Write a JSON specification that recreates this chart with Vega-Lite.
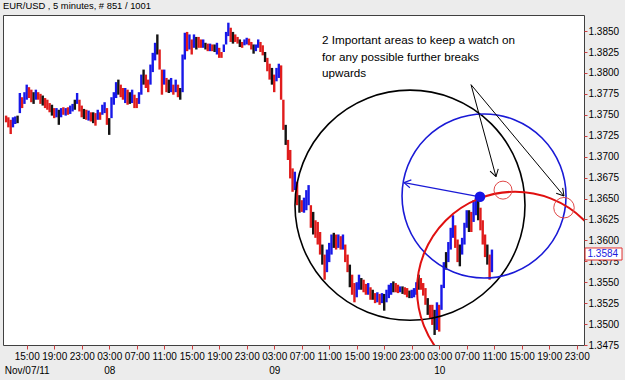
{
"$schema": "https://vega.github.io/schema/vega-lite/v6.json",
"width": 581, "height": 330,
"autosize": {"type": "none"},
"padding": {"left": 3, "top": 15, "right": 41, "bottom": 35},
"background": "#ececec",
"config": {"view": {"fill": "white", "stroke": "#404040", "strokeWidth": 1}, "font": "Liberation Sans"},
"title": {"text": "EUR/USD , 5 minutes, # 851 / 1001", "anchor": "start", "frame": "group", "offset": 4, "fontSize": 9.4, "fontWeight": "normal", "font": "Liberation Sans", "color": "#000000"},
"datasets": {
"bars": [
{"hour":12.00,"high":1.3749,"low":1.3741,"dir":"down"},
{"hour":12.33,"high":1.3747,"low":1.3735,"dir":"down"},
{"hour":12.67,"high":1.3744,"low":1.3727,"dir":"down"},
{"hour":13.00,"high":1.3747,"low":1.3735,"dir":"up"},
{"hour":13.33,"high":1.3748,"low":1.3739,"dir":"up"},
{"hour":13.67,"high":1.3749,"low":1.3740,"dir":"flat"},
{"hour":14.00,"high":1.3776,"low":1.3752,"dir":"up"},
{"hour":14.33,"high":1.3771,"low":1.3758,"dir":"down"},
{"hour":14.67,"high":1.3777,"low":1.3763,"dir":"up"},
{"hour":15.00,"high":1.3786,"low":1.3768,"dir":"up"},
{"hour":15.33,"high":1.3783,"low":1.3770,"dir":"down"},
{"hour":15.67,"high":1.3780,"low":1.3765,"dir":"down"},
{"hour":16.00,"high":1.3777,"low":1.3763,"dir":"flat"},
{"hour":16.33,"high":1.3780,"low":1.3768,"dir":"up"},
{"hour":16.67,"high":1.3777,"low":1.3768,"dir":"down"},
{"hour":17.00,"high":1.3775,"low":1.3763,"dir":"down"},
{"hour":17.33,"high":1.3773,"low":1.3761,"dir":"flat"},
{"hour":17.67,"high":1.3770,"low":1.3758,"dir":"down"},
{"hour":18.00,"high":1.3768,"low":1.3756,"dir":"down"},
{"hour":18.33,"high":1.3764,"low":1.3753,"dir":"down"},
{"hour":18.67,"high":1.3762,"low":1.3749,"dir":"flat"},
{"hour":19.00,"high":1.3758,"low":1.3746,"dir":"down"},
{"hour":19.33,"high":1.3758,"low":1.3747,"dir":"up"},
{"hour":19.67,"high":1.3756,"low":1.3738,"dir":"flat"},
{"hour":20.00,"high":1.3758,"low":1.3747,"dir":"up"},
{"hour":20.33,"high":1.3759,"low":1.3750,"dir":"down"},
{"hour":20.67,"high":1.3758,"low":1.3749,"dir":"up"},
{"hour":21.00,"high":1.3759,"low":1.3750,"dir":"down"},
{"hour":21.33,"high":1.3761,"low":1.3751,"dir":"up"},
{"hour":21.67,"high":1.3763,"low":1.3754,"dir":"up"},
{"hour":22.00,"high":1.3768,"low":1.3756,"dir":"flat"},
{"hour":22.33,"high":1.3776,"low":1.3763,"dir":"up"},
{"hour":22.67,"high":1.3768,"low":1.3754,"dir":"down"},
{"hour":23.00,"high":1.3761,"low":1.3747,"dir":"down"},
{"hour":23.33,"high":1.3757,"low":1.3745,"dir":"flat"},
{"hour":23.67,"high":1.3756,"low":1.3744,"dir":"down"},
{"hour":24.00,"high":1.3755,"low":1.3743,"dir":"up"},
{"hour":24.33,"high":1.3753,"low":1.3742,"dir":"down"},
{"hour":24.67,"high":1.3753,"low":1.3740,"dir":"flat"},
{"hour":25.00,"high":1.3752,"low":1.3737,"dir":"down"},
{"hour":25.33,"high":1.3756,"low":1.3744,"dir":"up"},
{"hour":25.67,"high":1.3753,"low":1.3744,"dir":"down"},
{"hour":26.00,"high":1.3762,"low":1.3750,"dir":"up"},
{"hour":26.33,"high":1.3765,"low":1.3752,"dir":"up"},
{"hour":26.67,"high":1.3758,"low":1.3738,"dir":"down"},
{"hour":27.00,"high":1.3746,"low":1.3726,"dir":"flat"},
{"hour":27.33,"high":1.3771,"low":1.3746,"dir":"up"},
{"hour":27.67,"high":1.3777,"low":1.3762,"dir":"up"},
{"hour":28.00,"high":1.3789,"low":1.3770,"dir":"up"},
{"hour":28.33,"high":1.3792,"low":1.3774,"dir":"flat"},
{"hour":28.67,"high":1.3786,"low":1.3771,"dir":"down"},
{"hour":29.00,"high":1.3782,"low":1.3768,"dir":"down"},
{"hour":29.33,"high":1.3782,"low":1.3764,"dir":"up"},
{"hour":29.67,"high":1.3780,"low":1.3762,"dir":"down"},
{"hour":30.00,"high":1.3777,"low":1.3763,"dir":"flat"},
{"hour":30.33,"high":1.3780,"low":1.3764,"dir":"up"},
{"hour":30.67,"high":1.3774,"low":1.3758,"dir":"down"},
{"hour":31.00,"high":1.3770,"low":1.3758,"dir":"down"},
{"hour":31.33,"high":1.3777,"low":1.3763,"dir":"up"},
{"hour":31.67,"high":1.3798,"low":1.3774,"dir":"up"},
{"hour":32.00,"high":1.3804,"low":1.3786,"dir":"flat"},
{"hour":32.33,"high":1.3798,"low":1.3782,"dir":"down"},
{"hour":32.67,"high":1.3792,"low":1.3777,"dir":"down"},
{"hour":33.00,"high":1.3810,"low":1.3786,"dir":"up"},
{"hour":33.33,"high":1.3824,"low":1.3801,"dir":"up"},
{"hour":33.67,"high":1.3836,"low":1.3815,"dir":"up"},
{"hour":34.00,"high":1.3846,"low":1.3822,"dir":"flat"},
{"hour":34.33,"high":1.3828,"low":1.3804,"dir":"down"},
{"hour":34.67,"high":1.3804,"low":1.3774,"dir":"down"},
{"hour":35.00,"high":1.3804,"low":1.3786,"dir":"up"},
{"hour":35.33,"high":1.3794,"low":1.3777,"dir":"down"},
{"hour":35.67,"high":1.3792,"low":1.3776,"dir":"flat"},
{"hour":36.00,"high":1.3794,"low":1.3777,"dir":"up"},
{"hour":36.33,"high":1.3786,"low":1.3774,"dir":"down"},
{"hour":36.67,"high":1.3792,"low":1.3777,"dir":"up"},
{"hour":37.00,"high":1.3786,"low":1.3771,"dir":"down"},
{"hour":37.33,"high":1.3782,"low":1.3768,"dir":"flat"},
{"hour":37.67,"high":1.3822,"low":1.3777,"dir":"up"},
{"hour":38.00,"high":1.3848,"low":1.3816,"dir":"up"},
{"hour":38.33,"high":1.3849,"low":1.3826,"dir":"down"},
{"hour":38.67,"high":1.3846,"low":1.3828,"dir":"up"},
{"hour":39.00,"high":1.3840,"low":1.3822,"dir":"down"},
{"hour":39.33,"high":1.3846,"low":1.3830,"dir":"up"},
{"hour":39.67,"high":1.3843,"low":1.3828,"dir":"flat"},
{"hour":40.00,"high":1.3843,"low":1.3830,"dir":"down"},
{"hour":40.33,"high":1.3840,"low":1.3830,"dir":"down"},
{"hour":40.67,"high":1.3840,"low":1.3830,"dir":"up"},
{"hour":41.00,"high":1.3836,"low":1.3828,"dir":"flat"},
{"hour":41.33,"high":1.3835,"low":1.3826,"dir":"down"},
{"hour":41.67,"high":1.3835,"low":1.3826,"dir":"up"},
{"hour":42.00,"high":1.3834,"low":1.3826,"dir":"down"},
{"hour":42.33,"high":1.3834,"low":1.3825,"dir":"flat"},
{"hour":42.67,"high":1.3836,"low":1.3822,"dir":"up"},
{"hour":43.00,"high":1.3830,"low":1.3818,"dir":"down"},
{"hour":43.33,"high":1.3825,"low":1.3818,"dir":"down"},
{"hour":43.67,"high":1.3834,"low":1.3825,"dir":"up"},
{"hour":44.00,"high":1.3849,"low":1.3834,"dir":"up"},
{"hour":44.33,"high":1.3860,"low":1.3844,"dir":"up"},
{"hour":44.67,"high":1.3854,"low":1.3837,"dir":"down"},
{"hour":45.00,"high":1.3849,"low":1.3835,"dir":"flat"},
{"hour":45.33,"high":1.3846,"low":1.3837,"dir":"down"},
{"hour":45.67,"high":1.3843,"low":1.3835,"dir":"down"},
{"hour":46.00,"high":1.3840,"low":1.3831,"dir":"flat"},
{"hour":46.33,"high":1.3837,"low":1.3830,"dir":"down"},
{"hour":46.67,"high":1.3840,"low":1.3833,"dir":"up"},
{"hour":47.00,"high":1.3842,"low":1.3834,"dir":"up"},
{"hour":47.33,"high":1.3841,"low":1.3833,"dir":"down"},
{"hour":47.67,"high":1.3837,"low":1.3828,"dir":"down"},
{"hour":48.00,"high":1.3834,"low":1.3823,"dir":"flat"},
{"hour":48.33,"high":1.3834,"low":1.3826,"dir":"up"},
{"hour":48.67,"high":1.3840,"low":1.3830,"dir":"up"},
{"hour":49.00,"high":1.3837,"low":1.3825,"dir":"down"},
{"hour":49.33,"high":1.3833,"low":1.3821,"dir":"down"},
{"hour":49.67,"high":1.3825,"low":1.3813,"dir":"flat"},
{"hour":50.00,"high":1.3818,"low":1.3802,"dir":"down"},
{"hour":50.33,"high":1.3811,"low":1.3792,"dir":"down"},
{"hour":50.67,"high":1.3806,"low":1.3786,"dir":"flat"},
{"hour":51.00,"high":1.3798,"low":1.3777,"dir":"down"},
{"hour":51.33,"high":1.3806,"low":1.3790,"dir":"up"},
{"hour":51.67,"high":1.3811,"low":1.3794,"dir":"up"},
{"hour":52.00,"high":1.3809,"low":1.3768,"dir":"down"},
{"hour":52.33,"high":1.3768,"low":1.3732,"dir":"down"},
{"hour":52.67,"high":1.3738,"low":1.3714,"dir":"flat"},
{"hour":53.00,"high":1.3720,"low":1.3696,"dir":"down"},
{"hour":53.33,"high":1.3708,"low":1.3674,"dir":"down"},
{"hour":53.67,"high":1.3686,"low":1.3658,"dir":"down"},
{"hour":54.00,"high":1.3682,"low":1.3660,"dir":"up"},
{"hour":54.33,"high":1.3670,"low":1.3642,"dir":"down"},
{"hour":54.67,"high":1.3654,"low":1.3633,"dir":"flat"},
{"hour":55.00,"high":1.3648,"low":1.3634,"dir":"down"},
{"hour":55.33,"high":1.3651,"low":1.3633,"dir":"up"},
{"hour":55.67,"high":1.3660,"low":1.3636,"dir":"up"},
{"hour":56.00,"high":1.3666,"low":1.3642,"dir":"up"},
{"hour":56.33,"high":1.3642,"low":1.3615,"dir":"down"},
{"hour":56.67,"high":1.3634,"low":1.3607,"dir":"flat"},
{"hour":57.00,"high":1.3624,"low":1.3603,"dir":"down"},
{"hour":57.33,"high":1.3622,"low":1.3595,"dir":"down"},
{"hour":57.67,"high":1.3610,"low":1.3583,"dir":"down"},
{"hour":58.00,"high":1.3595,"low":1.3571,"dir":"flat"},
{"hour":58.33,"high":1.3583,"low":1.3553,"dir":"down"},
{"hour":58.67,"high":1.3589,"low":1.3562,"dir":"up"},
{"hour":59.00,"high":1.3597,"low":1.3574,"dir":"up"},
{"hour":59.33,"high":1.3607,"low":1.3583,"dir":"up"},
{"hour":59.67,"high":1.3609,"low":1.3591,"dir":"flat"},
{"hour":60.00,"high":1.3607,"low":1.3589,"dir":"down"},
{"hour":60.33,"high":1.3607,"low":1.3591,"dir":"up"},
{"hour":60.67,"high":1.3605,"low":1.3589,"dir":"down"},
{"hour":61.00,"high":1.3607,"low":1.3589,"dir":"up"},
{"hour":61.33,"high":1.3595,"low":1.3574,"dir":"down"},
{"hour":61.67,"high":1.3583,"low":1.3562,"dir":"down"},
{"hour":62.00,"high":1.3571,"low":1.3544,"dir":"flat"},
{"hour":62.33,"high":1.3559,"low":1.3535,"dir":"down"},
{"hour":62.67,"high":1.3549,"low":1.3526,"dir":"down"},
{"hour":63.00,"high":1.3550,"low":1.3532,"dir":"up"},
{"hour":63.33,"high":1.3559,"low":1.3541,"dir":"up"},
{"hour":63.67,"high":1.3555,"low":1.3541,"dir":"flat"},
{"hour":64.00,"high":1.3553,"low":1.3538,"dir":"down"},
{"hour":64.33,"high":1.3548,"low":1.3535,"dir":"down"},
{"hour":64.67,"high":1.3549,"low":1.3535,"dir":"up"},
{"hour":65.00,"high":1.3544,"low":1.3529,"dir":"down"},
{"hour":65.33,"high":1.3541,"low":1.3529,"dir":"flat"},
{"hour":65.67,"high":1.3537,"low":1.3525,"dir":"down"},
{"hour":66.00,"high":1.3538,"low":1.3526,"dir":"up"},
{"hour":66.33,"high":1.3536,"low":1.3523,"dir":"down"},
{"hour":66.67,"high":1.3537,"low":1.3525,"dir":"up"},
{"hour":67.00,"high":1.3536,"low":1.3516,"dir":"flat"},
{"hour":67.33,"high":1.3541,"low":1.3526,"dir":"up"},
{"hour":67.67,"high":1.3547,"low":1.3531,"dir":"up"},
{"hour":68.00,"high":1.3549,"low":1.3535,"dir":"up"},
{"hour":68.33,"high":1.3551,"low":1.3538,"dir":"flat"},
{"hour":68.67,"high":1.3549,"low":1.3538,"dir":"down"},
{"hour":69.00,"high":1.3547,"low":1.3537,"dir":"down"},
{"hour":69.33,"high":1.3545,"low":1.3538,"dir":"up"},
{"hour":69.67,"high":1.3545,"low":1.3536,"dir":"flat"},
{"hour":70.00,"high":1.3544,"low":1.3535,"dir":"down"},
{"hour":70.33,"high":1.3543,"low":1.3532,"dir":"down"},
{"hour":70.67,"high":1.3540,"low":1.3531,"dir":"flat"},
{"hour":71.00,"high":1.3541,"low":1.3531,"dir":"up"},
{"hour":71.33,"high":1.3543,"low":1.3532,"dir":"up"},
{"hour":71.67,"high":1.3550,"low":1.3535,"dir":"up"},
{"hour":72.00,"high":1.3559,"low":1.3541,"dir":"flat"},
{"hour":72.33,"high":1.3555,"low":1.3541,"dir":"down"},
{"hour":72.67,"high":1.3549,"low":1.3534,"dir":"down"},
{"hour":73.00,"high":1.3543,"low":1.3523,"dir":"down"},
{"hour":73.33,"high":1.3531,"low":1.3511,"dir":"flat"},
{"hour":73.67,"high":1.3523,"low":1.3507,"dir":"down"},
{"hour":74.00,"high":1.3523,"low":1.3499,"dir":"down"},
{"hour":74.33,"high":1.3517,"low":1.3487,"dir":"flat"},
{"hour":74.67,"high":1.3526,"low":1.3493,"dir":"up"},
{"hour":75.00,"high":1.3523,"low":1.3491,"dir":"down"},
{"hour":75.33,"high":1.3547,"low":1.3517,"dir":"up"},
{"hour":75.67,"high":1.3574,"low":1.3543,"dir":"up"},
{"hour":76.00,"high":1.3586,"low":1.3565,"dir":"flat"},
{"hour":76.33,"high":1.3598,"low":1.3574,"dir":"up"},
{"hour":76.67,"high":1.3615,"low":1.3589,"dir":"up"},
{"hour":77.00,"high":1.3630,"low":1.3603,"dir":"up"},
{"hour":77.33,"high":1.3618,"low":1.3591,"dir":"down"},
{"hour":77.67,"high":1.3601,"low":1.3574,"dir":"down"},
{"hour":78.00,"high":1.3595,"low":1.3569,"dir":"flat"},
{"hour":78.33,"high":1.3603,"low":1.3583,"dir":"up"},
{"hour":78.67,"high":1.3621,"low":1.3595,"dir":"up"},
{"hour":79.00,"high":1.3636,"low":1.3615,"dir":"up"},
{"hour":79.33,"high":1.3636,"low":1.3610,"dir":"flat"},
{"hour":79.67,"high":1.3634,"low":1.3610,"dir":"down"},
{"hour":80.00,"high":1.3648,"low":1.3622,"dir":"up"},
{"hour":80.33,"high":1.3651,"low":1.3630,"dir":"up"},
{"hour":80.67,"high":1.3648,"low":1.3624,"dir":"flat"},
{"hour":81.00,"high":1.3639,"low":1.3612,"dir":"down"},
{"hour":81.33,"high":1.3624,"low":1.3595,"dir":"down"},
{"hour":81.67,"high":1.3607,"low":1.3580,"dir":"down"},
{"hour":82.00,"high":1.3595,"low":1.3571,"dir":"flat"},
{"hour":82.33,"high":1.3583,"low":1.3553,"dir":"down"},
{"hour":82.67,"high":1.3589,"low":1.3562,"dir":"up"}
],
"blackLines": [
{"hour":79.63,"price":1.3786,"hour2":83.26,"price2":1.3676},
{"hour":79.63,"price":1.3786,"hour2":93.15,"price2":1.3653}
],
"notes": [
{"hour":57.95,"price":1.38393,"label":"2 Important areas to keep a watch on"},
{"hour":57.95,"price":1.38196,"label":"for any possible further breaks"},
{"hour":57.95,"price":1.38005,"label":"upwards"}
]
},
"resolve": {"axis": {"x": "independent", "y": "independent"}},
"layer": [
{
"data": {"name": "bars"},
"mark": {"type": "rule", "strokeWidth": 2.4},
"encoding": {
"x": {"field": "hour", "type": "quantitative", "scale": {"domain": [11.55, 96.06], "nice": false, "zero": false},
"axis": {"orient": "bottom", "values": [15,19,23,27,31,35,39,43,47,51,55,59,63,67,71,75,79,83,87,91,95], "labelExpr": "(datum.value % 24 < 10 ? '0' : '') + (datum.value % 24) + ':00'", "domain": false, "grid": false, "ticks": true, "tickColor": "#d04040", "tickSize": 4, "labelPadding": 2, "labelFontSize": 10, "labelColor": "#000000", "title": null, "labelFlush": false, "labelOverlap": false, "zindex": 0}},
"y": {"field": "high", "type": "quantitative", "scale": {"domain": [1.3475, 1.38692], "nice": false, "zero": false},
"axis": {"orient": "right", "values": [1.3475,1.35,1.3525,1.355,1.3575,1.36,1.3625,1.365,1.3675,1.37,1.3725,1.375,1.3775,1.38,1.3825,1.385], "format": ".4f", "domain": false, "grid": false, "ticks": true, "tickColor": "#d04040", "tickSize": 3, "labelPadding": 1, "labelFontSize": 10, "labelColor": "#000000", "title": null, "labelFlush": false, "labelOverlap": false, "zindex": 0}},
"y2": {"field": "low"},
"color": {"field": "dir", "type": "nominal", "scale": {"domain": ["up","down","flat"], "range": ["#1818e8","#e01c1c","#141414"]}, "legend": null}
}
},
{
"data": {"values": [{"hour":70.75,"price":1.3642}]},
"mark": {"type": "point", "shape": "circle", "size": 52900, "filled": false, "stroke": "#000000", "strokeWidth": 1.6, "opacity": 1},
"encoding": {"x": {"field": "hour", "type": "quantitative", "axis": null}, "y": {"field": "price", "type": "quantitative", "axis": null}}
},
{
"data": {"values": [{"hour":81.52,"price":1.3653}]},
"mark": {"type": "point", "shape": "circle", "size": 26896, "filled": false, "stroke": "#1a1ad6", "strokeWidth": 1.6, "opacity": 1},
"encoding": {"x": {"field": "hour", "type": "quantitative", "axis": null}, "y": {"field": "price", "type": "quantitative", "axis": null}}
},
{
"data": {"values": [{"hour":86.03,"price":1.3541}]},
"mark": {"type": "point", "shape": "circle", "size": 38416, "filled": false, "stroke": "#e01010", "strokeWidth": 2, "opacity": 1, "clip": true},
"encoding": {"x": {"field": "hour", "type": "quantitative", "axis": null}, "y": {"field": "price", "type": "quantitative", "axis": null}}
},
{
"data": {"values": [{"hour":84.28,"price":1.3660}]},
"mark": {"type": "point", "shape": "circle", "size": 324, "filled": false, "stroke": "#e04848", "strokeWidth": 1, "opacity": 1},
"encoding": {"x": {"field": "hour", "type": "quantitative", "axis": null}, "y": {"field": "price", "type": "quantitative", "axis": null}}
},
{
"data": {"values": [{"hour":93.15,"price":1.3639}]},
"mark": {"type": "point", "shape": "circle", "size": 420, "filled": false, "stroke": "#e04848", "strokeWidth": 1, "opacity": 1},
"encoding": {"x": {"field": "hour", "type": "quantitative", "axis": null}, "y": {"field": "price", "type": "quantitative", "axis": null}}
},
{
"data": {"name": "blackLines"},
"mark": {"type": "rule", "stroke": "#000000", "strokeWidth": 1},
"encoding": {"x": {"field": "hour", "type": "quantitative", "axis": null}, "y": {"field": "price", "type": "quantitative", "axis": null}, "x2": {"field": "hour2"}, "y2": {"field": "price2"}}
},
{
"data": {"values": [{"hour":83.26,"price":1.3676}]},
"mark": {"type": "point", "shape": "M0,0L1,-0.6M0,0L1,0.6", "size": 200, "filled": false, "stroke": "#000000", "strokeWidth": 1, "opacity": 1, "angle": 254.8},
"encoding": {"x": {"field": "hour", "type": "quantitative", "axis": null}, "y": {"field": "price", "type": "quantitative", "axis": null}}
},
{
"data": {"values": [{"hour":93.15,"price":1.3653}]},
"mark": {"type": "point", "shape": "M0,0L1,-0.6M0,0L1,0.6", "size": 200, "filled": false, "stroke": "#000000", "strokeWidth": 1, "opacity": 1, "angle": 230},
"encoding": {"x": {"field": "hour", "type": "quantitative", "axis": null}, "y": {"field": "price", "type": "quantitative", "axis": null}}
},
{
"data": {"values": [{"hour":80.93,"price":1.3652,"hour2":69.88,"price2":1.3669}]},
"mark": {"type": "rule", "stroke": "#1a1ad6", "strokeWidth": 1.2},
"encoding": {"x": {"field": "hour", "type": "quantitative", "axis": null}, "y": {"field": "price", "type": "quantitative", "axis": null}, "x2": {"field": "hour2"}, "y2": {"field": "price2"}}
},
{
"data": {"values": [{"hour":69.88,"price":1.3669}]},
"mark": {"type": "point", "shape": "M0,0L1,-0.6M0,0L1,0.6", "size": 180, "filled": false, "stroke": "#1a1ad6", "strokeWidth": 1.2, "opacity": 1, "angle": 10.4},
"encoding": {"x": {"field": "hour", "type": "quantitative", "axis": null}, "y": {"field": "price", "type": "quantitative", "axis": null}}
},
{
"data": {"values": [{"hour":80.93,"price":1.3652}]},
"mark": {"type": "point", "shape": "circle", "size": 110, "filled": true, "fill": "#1414e6", "opacity": 1},
"encoding": {"x": {"field": "hour", "type": "quantitative", "axis": null}, "y": {"field": "price", "type": "quantitative", "axis": null}}
},
{
"data": {"name": "notes"},
"mark": {"type": "text", "align": "left", "baseline": "middle", "fontSize": 11.7, "color": "#000000"},
"encoding": {
"x": {"field": "hour", "type": "quantitative",
"axis": {"orient": "bottom", "values": [15,27,51,75], "labelExpr": "datum.value == 15 ? 'Nov/07/11' : datum.value == 27 ? '08' : datum.value == 51 ? '09' : '10'", "ticks": false, "tickSize": 0, "domain": false, "grid": false, "labelPadding": 20, "labelFontSize": 10, "labelColor": "#000000", "title": null, "labelFlush": false, "labelOverlap": false}},
"y": {"field": "price", "type": "quantitative", "axis": null},
"text": {"field": "label"}
}
},
{
"data": {"values": [{"x1":96.21,"x2":101.59,"y1":1.35909,"y2":1.35765}]},
"mark": {"type": "rect", "fill": "#ffffff", "stroke": "#e03030", "strokeWidth": 1},
"encoding": {"x": {"field": "x1", "type": "quantitative", "axis": null}, "x2": {"field": "x2"}, "y": {"field": "y1", "type": "quantitative", "axis": null}, "y2": {"field": "y2"}}
},
{
"data": {"values": [{"hour":96.57,"price":1.3584,"label":"1.3584"}]},
"mark": {"type": "text", "align": "left", "baseline": "middle", "fontSize": 10, "color": "#1a1ae0"},
"encoding": {"x": {"field": "hour", "type": "quantitative", "axis": null}, "y": {"field": "price", "type": "quantitative", "axis": null}, "text": {"field": "label"}}
}
]
}
